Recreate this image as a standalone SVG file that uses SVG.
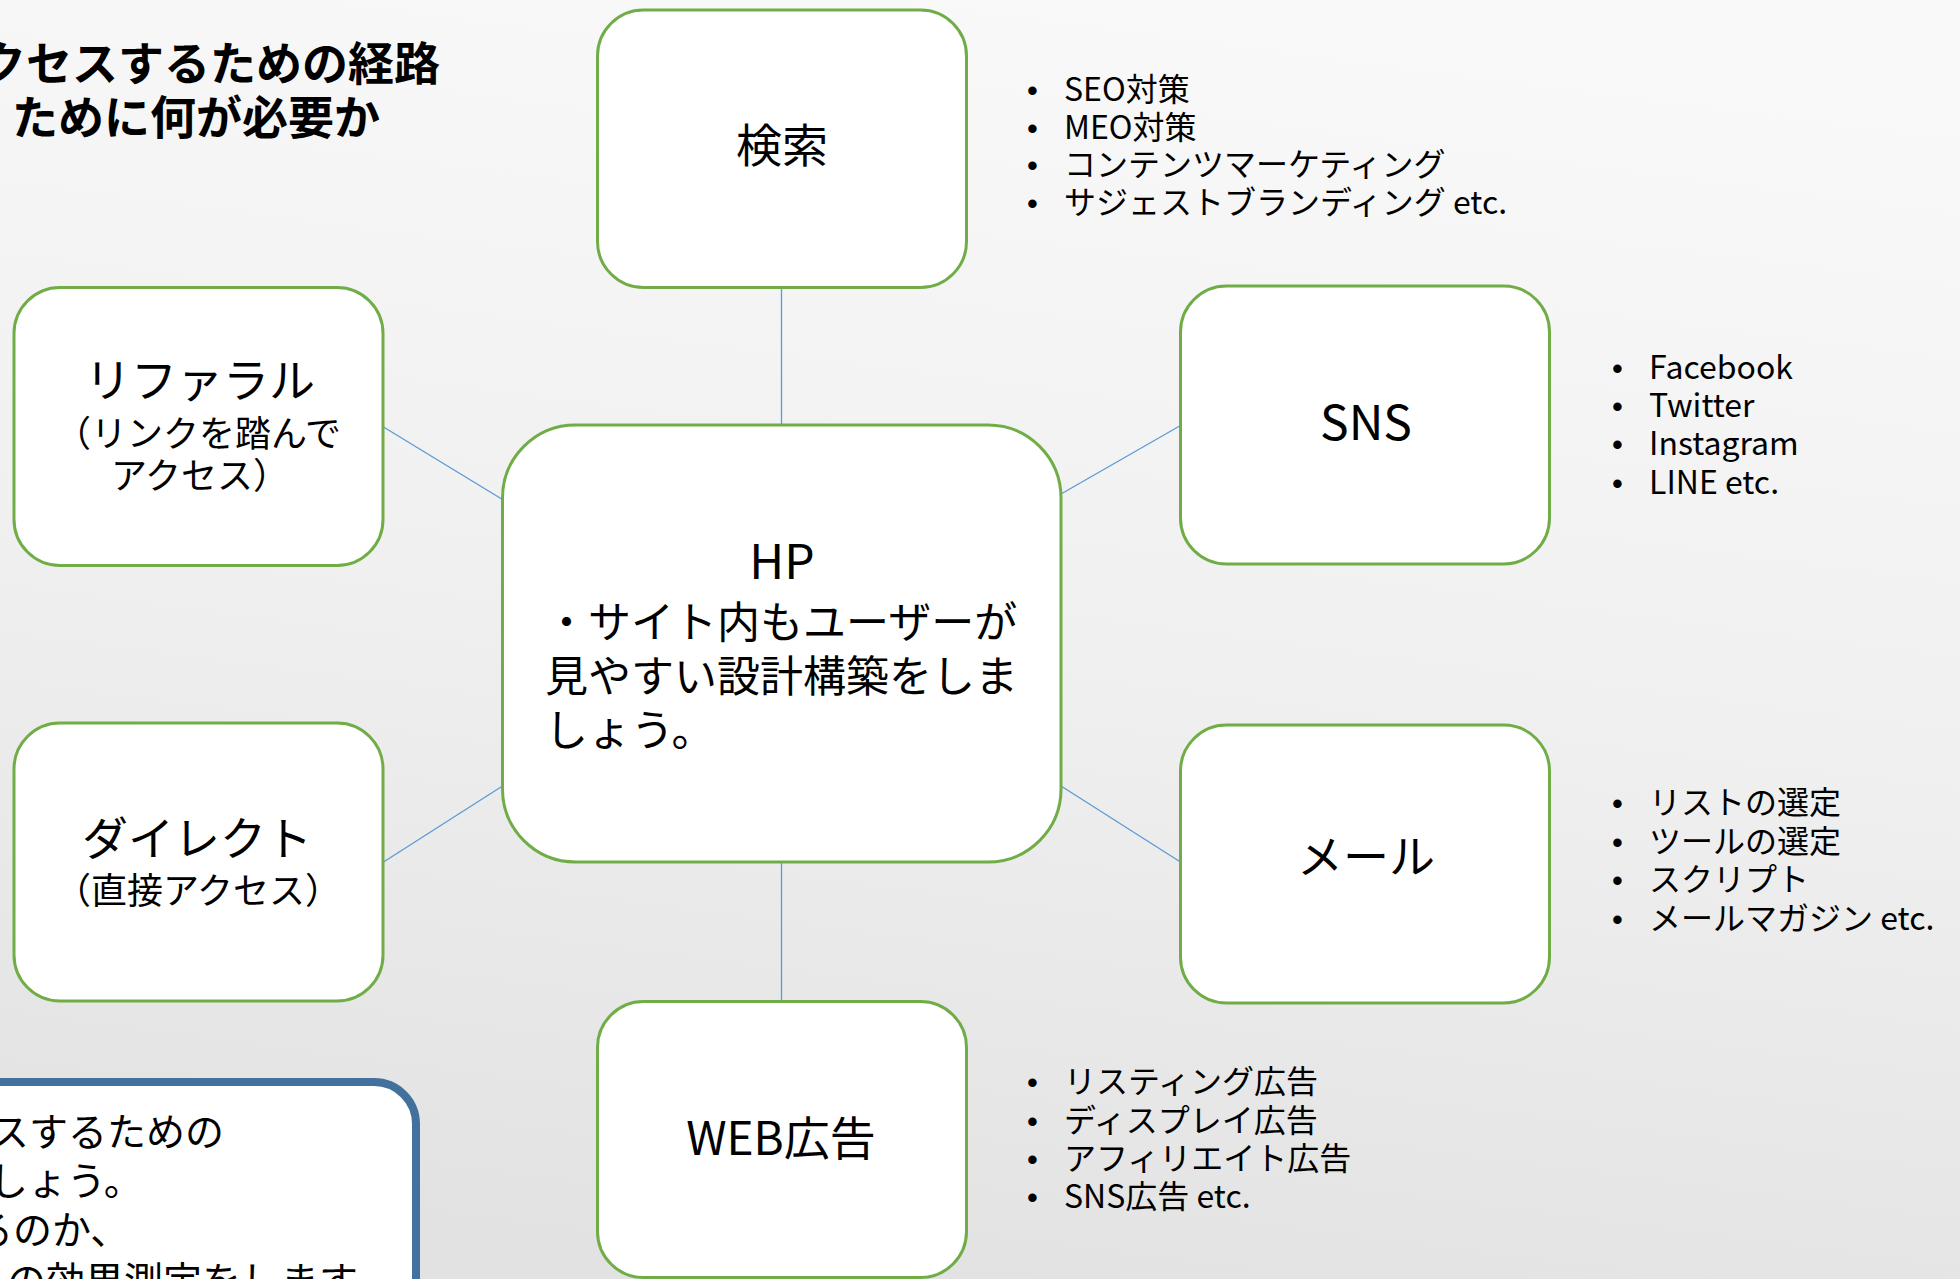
<svg xmlns="http://www.w3.org/2000/svg" width="1960" height="1279" viewBox="0 0 1960 1279">
<defs>
<linearGradient id="bg" x1="0.6" y1="0" x2="0.4" y2="1">
<stop offset="0" stop-color="#f9f9f9"/>
<stop offset="0.5" stop-color="#f0f0f0"/>
<stop offset="1" stop-color="#e2e2e2"/>
</linearGradient>
<style>
text{font-family:'Noto Sans CJK JP','Noto Sans',sans-serif;fill:#000;}
.node{fill:#fff;stroke:#70AD47;stroke-width:3;}
.conn{stroke:#5B9BD5;stroke-width:1.3;fill:none;}
.big{font-size:46px;text-anchor:middle;}
.sub{font-size:36px;text-anchor:middle;font-feature-settings:"halt" 1;}
.hp{font-size:43px;}
.li{font-size:32px;}
.bu{font-size:31px;font-family:'Liberation Sans',sans-serif;}
.title{font-size:46px;font-weight:700;text-anchor:end;}
.note{font-size:39px;}
</style>
</defs>
<rect x="0" y="0" width="1960" height="1279" fill="url(#bg)"/>

<g id="title">
<text class="title" x="440" y="80">クセスするための経路</text>
<text class="title" x="380" y="134">ために何が必要か</text>
</g>

<g id="connectors">
<line class="conn" x1="781.5" y1="287.5" x2="781.5" y2="425"/>
<line class="conn" x1="781.5" y1="862" x2="781.5" y2="1001.5"/>
<line class="conn" x1="383.5" y1="427" x2="502.5" y2="499.5"/>
<line class="conn" x1="1061" y1="494" x2="1180.5" y2="425.5"/>
<line class="conn" x1="383.5" y1="862" x2="502.5" y2="786"/>
<line class="conn" x1="1061" y1="786" x2="1180.5" y2="862"/>
</g>

<g id="node-search">
<rect class="node" x="597.5" y="10" width="369" height="277.5" rx="46" ry="46"/>
<text class="big" x="782" y="162">検索</text>
</g>

<g id="node-referral">
<rect class="node" x="14" y="287.5" width="369" height="278" rx="46" ry="46"/>
<text class="big" x="200" y="397">リファラル</text>
<text class="sub" x="207" y="447">（リンクを踏んで</text>
<text class="sub" x="191" y="489">アクセス）</text>
</g>

<g id="node-sns">
<rect class="node" x="1180.5" y="286" width="369" height="278" rx="46" ry="46"/>
<text class="big" x="1366" y="440" style="font-size:48px">SNS</text>
</g>

<g id="node-hp">
<rect class="node" x="502.5" y="425" width="558.5" height="437" rx="73" ry="73"/>
<text class="hp" x="782" y="579" text-anchor="middle" style="font-size:48px">HP</text>
<text class="hp" x="545" y="638">・サイト内もユーザーが</text>
<text class="hp" x="545" y="692">見やすい設計構築をしま</text>
<text class="hp" x="545" y="746">しょう。</text>
</g>

<g id="node-direct">
<rect class="node" x="14" y="723" width="369" height="278" rx="46" ry="46"/>
<text class="big" x="197" y="855">ダイレクト</text>
<text class="sub" x="198" y="904">（直接アクセス）</text>
</g>

<g id="node-mail">
<rect class="node" x="1180.5" y="725" width="369" height="278" rx="46" ry="46"/>
<text class="big" x="1366" y="873">メール</text>
</g>

<g id="node-webad">
<rect class="node" x="597.5" y="1001.5" width="369" height="276" rx="46" ry="46"/>
<text class="big" x="781" y="1155">WEB広告</text>
</g>

<g id="list-search">
<text class="bu" x="1027" y="101">•</text>
<text class="li" x="1064" y="101">SEO対策</text>
<text class="bu" x="1027" y="138.5">•</text>
<text class="li" x="1064" y="138.5">MEO対策</text>
<text class="bu" x="1027" y="176">•</text>
<text class="li" x="1064" y="176">コンテンツマーケティング</text>
<text class="bu" x="1027" y="213.5">•</text>
<text class="li" x="1064" y="213.5">サジェストブランディング etc.</text>
</g>

<g id="list-sns">
<text class="bu" x="1612" y="379">•</text>
<text class="li" x="1649" y="379">Facebook</text>
<text class="bu" x="1612" y="417">•</text>
<text class="li" x="1649" y="417">Twitter</text>
<text class="bu" x="1612" y="455">•</text>
<text class="li" x="1649" y="455">Instagram</text>
<text class="bu" x="1612" y="494">•</text>
<text class="li" x="1649" y="494">LINE etc.</text>
</g>

<g id="list-mail">
<text class="bu" x="1612" y="814">•</text>
<text class="li" x="1649" y="814">リストの選定</text>
<text class="bu" x="1612" y="853">•</text>
<text class="li" x="1649" y="853">ツールの選定</text>
<text class="bu" x="1612" y="891">•</text>
<text class="li" x="1649" y="891">スクリプト</text>
<text class="bu" x="1612" y="930">•</text>
<text class="li" x="1649" y="930">メールマガジン etc.</text>
</g>

<g id="list-webad">
<text class="bu" x="1027" y="1093">•</text>
<text class="li" x="1064" y="1093">リスティング広告</text>
<text class="bu" x="1027" y="1131.5">•</text>
<text class="li" x="1064" y="1131.5">ディスプレイ広告</text>
<text class="bu" x="1027" y="1170">•</text>
<text class="li" x="1064" y="1170">アフィリエイト広告</text>
<text class="bu" x="1027" y="1208">•</text>
<text class="li" x="1064" y="1208">SNS広告 etc.</text>
</g>

<g id="note-box">
<rect x="-60" y="1082" width="476" height="260" rx="42" ry="42" fill="#fff" stroke="#41719C" stroke-width="8"/>
<text class="note" x="-10" y="1146">スするための</text>
<text class="note" x="-11" y="1195">しょう。</text>
<text class="note" x="-26" y="1244">るのか、</text>
<text class="note" x="358" y="1295" text-anchor="end">の効果測定をします</text>
</g>
</svg>
